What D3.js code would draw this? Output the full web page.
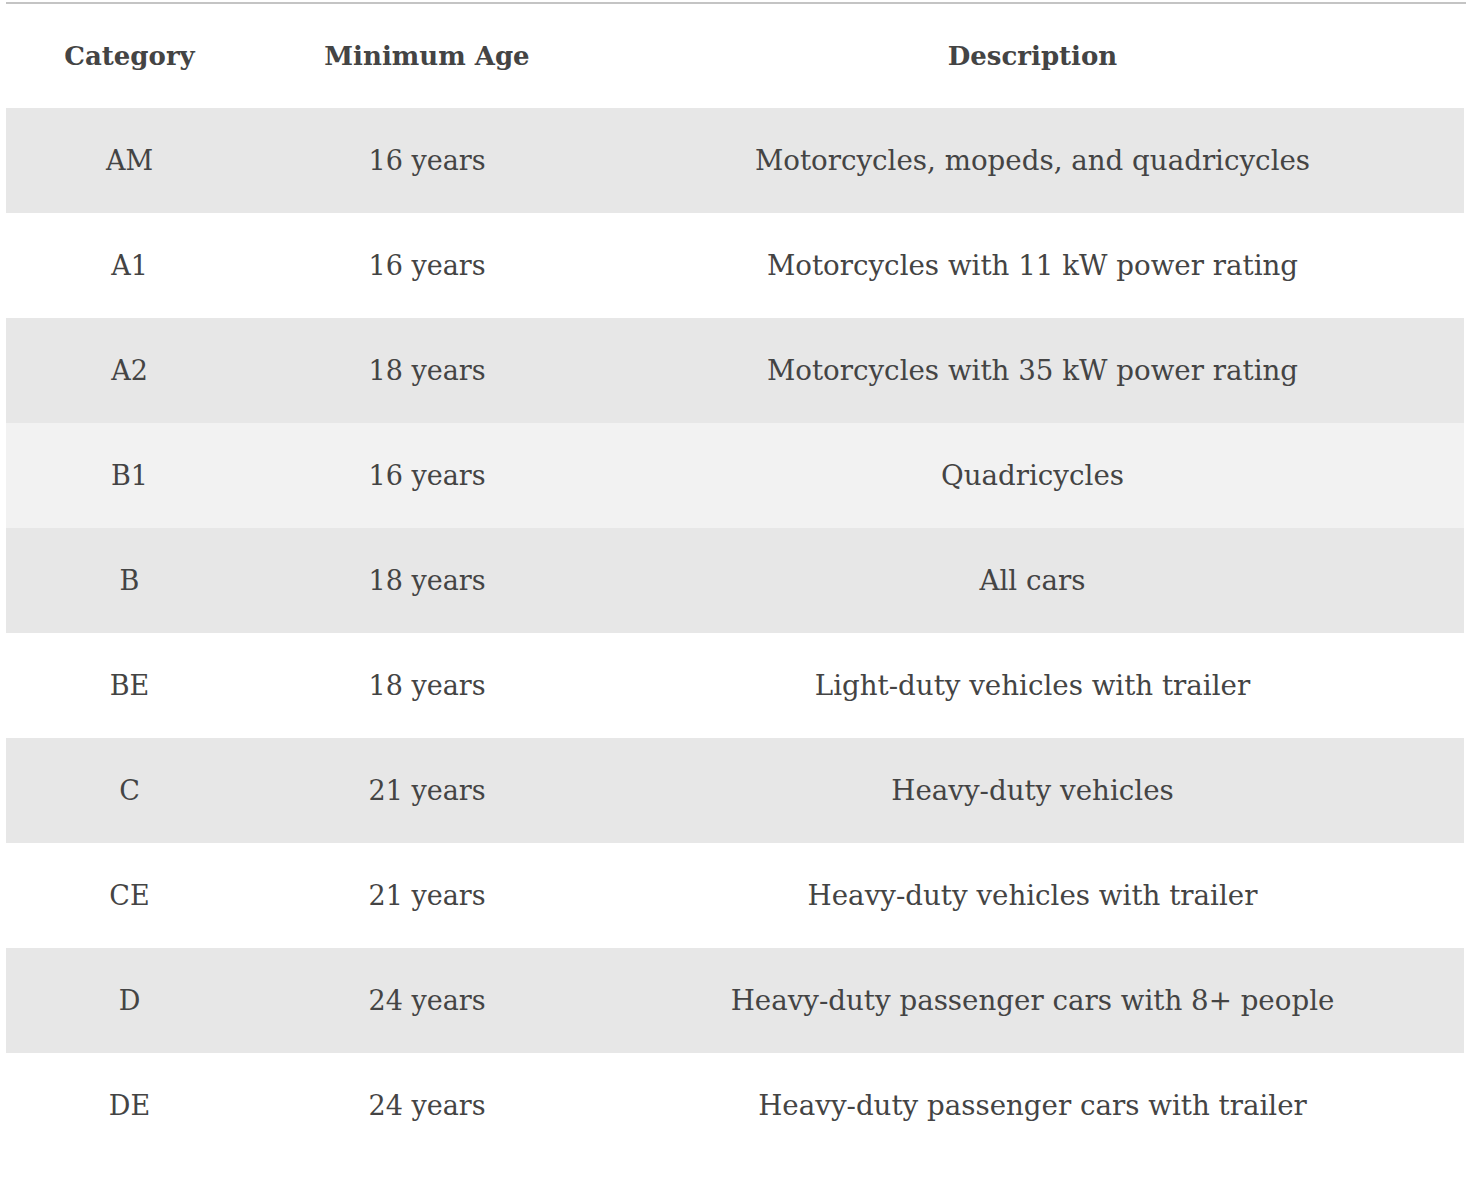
<!DOCTYPE html>
<html>
<head>
<meta charset="utf-8">
<script src="https://cdn.jsdelivr.net/npm/d3@7"></script>
<style>
  html, body { margin: 0; padding: 0; background: #ffffff; }
  svg { display: block; }
</style>
</head>
<body>
<svg id="chart" width="1468" height="1188"></svg>
<script>
const headers = ["Category", "Minimum Age", "Description"];
const categories = ["AM", "A1", "A2", "B1", "B", "BE", "C", "CE", "D", "DE"];
const minimumAges = ["16 years", "16 years", "18 years", "16 years", "18 years", "18 years", "21 years", "21 years", "24 years", "24 years"];
const descriptions = [
  "Motorcycles, mopeds, and quadricycles",
  "Motorcycles with 11 kW power rating",
  "Motorcycles with 35 kW power rating",
  "Quadricycles",
  "All cars",
  "Light-duty vehicles with trailer",
  "Heavy-duty vehicles",
  "Heavy-duty vehicles with trailer",
  "Heavy-duty passenger cars with 8+ people",
  "Heavy-duty passenger cars with trailer"
];
const highlightedRow = "B1";

const svg = d3.select("#chart");
const fontFamily = "'DejaVu Serif', 'Liberation Serif', serif";
const textColor = "#444444";

const left = 6, right = 1464;
const colEdges = [left, 253, 601, right];
const headerTop = 3, rowTop = 108, rowH = 105;
const bodySizes = [27, 27, 27.7];

const y = d3.scaleBand()
  .domain(categories)
  .range([rowTop, rowTop + rowH * categories.length])
  .paddingInner(0).paddingOuter(0);

const colCenter = i => (colEdges[i] + colEdges[i + 1]) / 2;

// top rule
svg.append("line")
  .attr("x1", left).attr("x2", right + 2)
  .attr("y1", 3).attr("y2", 3)
  .attr("stroke", "#c4c4c4").attr("stroke-width", 2);

// row backgrounds
const rows = categories.map((c, i) => ({ cat: c, age: minimumAges[i], desc: descriptions[i], i }));

svg.append("g").selectAll("rect")
  .data(rows)
  .join("rect")
  .attr("x", left)
  .attr("y", d => y(d.cat))
  .attr("width", right - left)
  .attr("height", y.bandwidth())
  .attr("fill", d => d.cat === highlightedRow ? "#f2f2f2" : (d.i % 2 === 0 ? "#e7e7e7" : "#ffffff"));

// header
svg.append("g").selectAll("text")
  .data(headers)
  .join("text")
  .attr("x", (d, i) => colCenter(i))
  .attr("y", (headerTop + rowTop) / 2)
  .attr("text-anchor", "middle")
  .attr("dominant-baseline", "central")
  .attr("font-family", fontFamily)
  .attr("font-weight", "bold")
  .attr("font-size", 26)
  .attr("fill", textColor)
  .text(d => d);

// body cells
const cellG = svg.append("g");
rows.forEach(r => {
  [r.cat, r.age, r.desc].forEach((t, ci) => {
    cellG.append("text")
      .attr("x", colCenter(ci))
      .attr("y", y(r.cat) + y.bandwidth() / 2)
      .attr("text-anchor", "middle")
      .attr("dominant-baseline", "central")
      .attr("font-family", fontFamily)
      .attr("font-size", bodySizes[ci])
      .attr("fill", textColor)
      .text(t);
  });
});
</script>
</body>
</html>
